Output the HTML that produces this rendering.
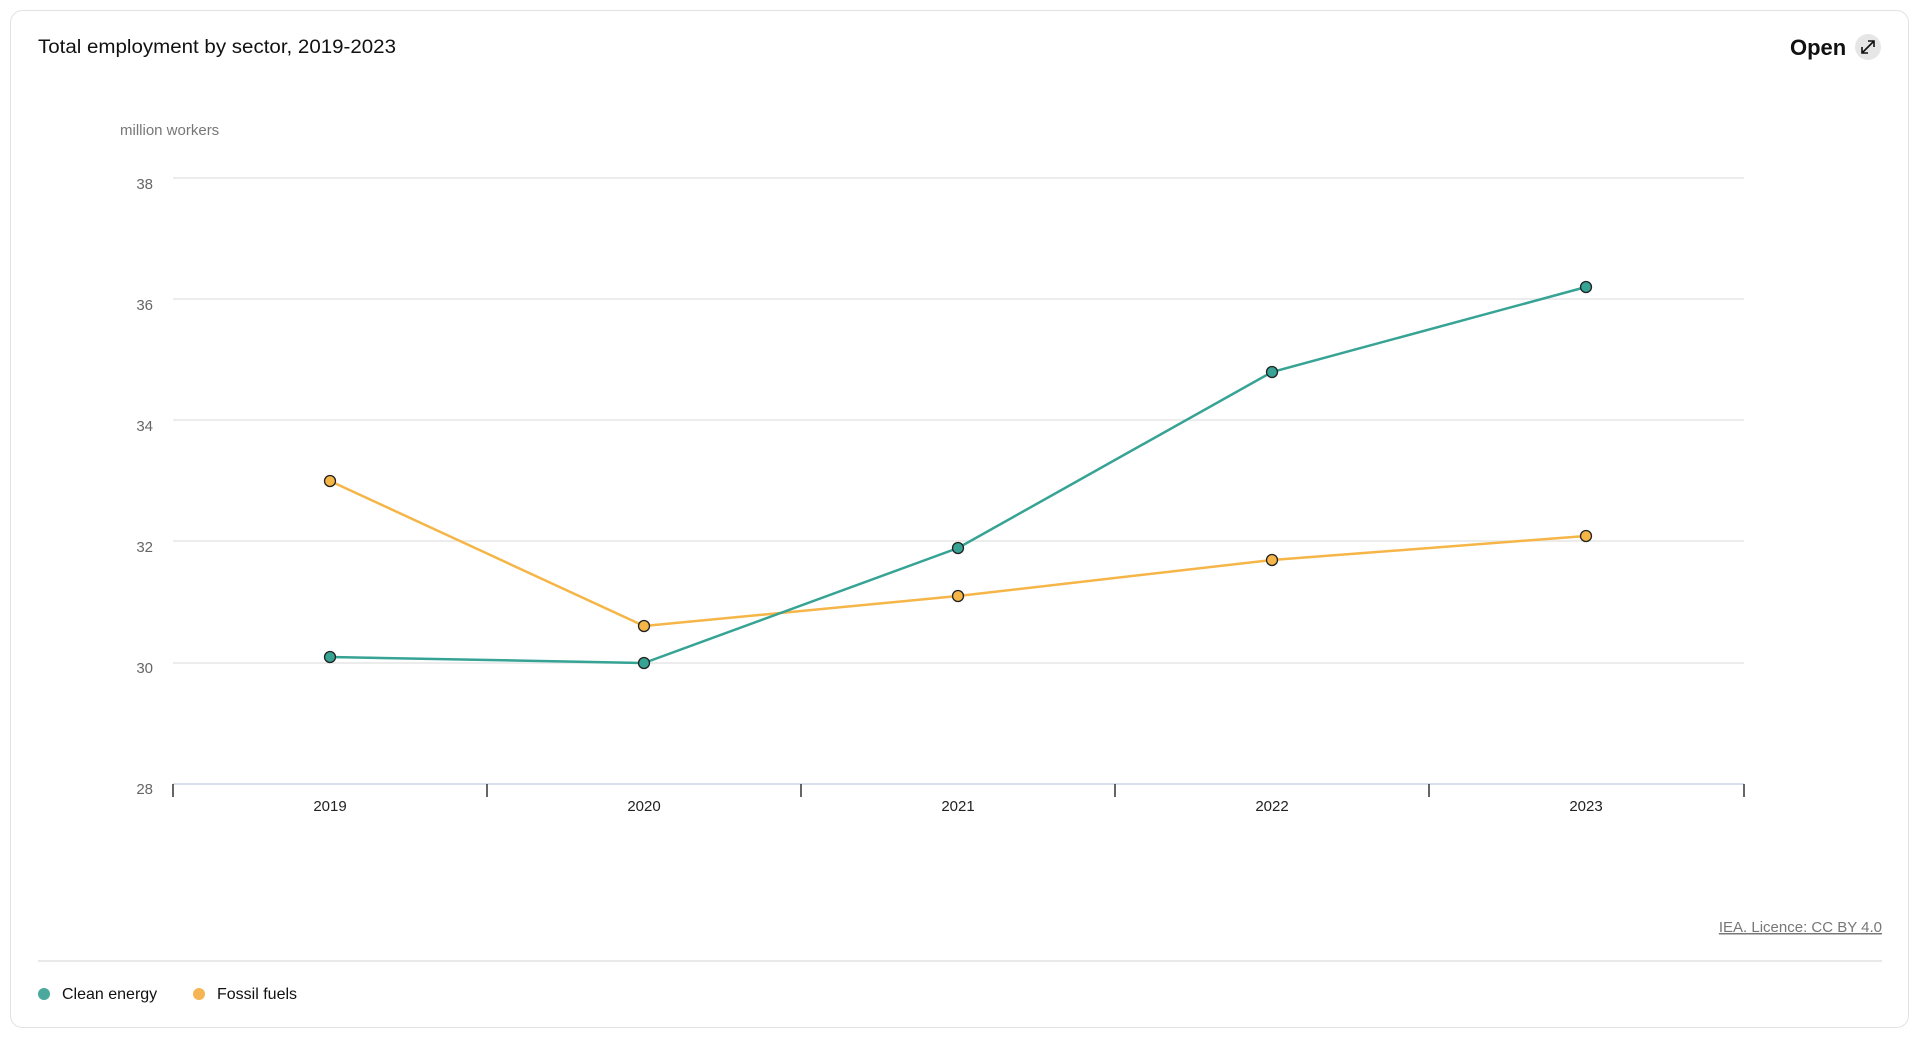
<!DOCTYPE html>
<html><head><meta charset="utf-8"><style>
html,body{margin:0;padding:0;background:#fff;width:1920px;height:1038px;overflow:hidden;font-family:"Liberation Sans",sans-serif;}
</style></head><body>
<svg width="1920" height="1038" xmlns="http://www.w3.org/2000/svg" font-family="Liberation Sans, sans-serif">
<rect x="10.5" y="10.5" width="1898" height="1017" rx="12" fill="#fff" stroke="#e2e2e2"/>
<text x="38" y="53" font-size="19" fill="#111" textLength="358" lengthAdjust="spacingAndGlyphs">Total employment by sector, 2019-2023</text>
<text x="1790" y="55" font-size="22" font-weight="bold" fill="#111">Open</text>
<circle cx="1868" cy="47" r="13" fill="#e6e6e6"/>
<path d="M1862 53 L1874 41 M1868 41 L1874 41 L1874 47 M1862 47 L1862 53 L1868 53" stroke="#111" stroke-width="1.6" fill="none"/>
<text x="120" y="135" font-size="15" fill="#777">million workers</text>
<g stroke="#e6e6e6" stroke-width="1.5">
<line x1="173" y1="178" x2="1744" y2="178"/>
<line x1="173" y1="299" x2="1744" y2="299"/>
<line x1="173" y1="420" x2="1744" y2="420"/>
<line x1="173" y1="541" x2="1744" y2="541"/>
<line x1="173" y1="663" x2="1744" y2="663"/>
</g>
<line x1="173" y1="784" x2="1744" y2="784" stroke="#ccd3e6" stroke-width="1.5"/>
<g font-size="15" fill="#666" text-anchor="end">
<text x="153" y="189">38</text><text x="153" y="310">36</text><text x="153" y="431">34</text>
<text x="153" y="552">32</text><text x="153" y="673">30</text><text x="153" y="794">28</text>
</g>
<g stroke="#333" stroke-width="1.5">
<line x1="173" y1="784" x2="173" y2="797"/><line x1="487" y1="784" x2="487" y2="797"/>
<line x1="801" y1="784" x2="801" y2="797"/><line x1="1115" y1="784" x2="1115" y2="797"/>
<line x1="1429" y1="784" x2="1429" y2="797"/><line x1="1744" y1="784" x2="1744" y2="797"/>
</g>
<g font-size="15" fill="#222" text-anchor="middle">
<text x="330" y="811">2019</text><text x="644" y="811">2020</text><text x="958" y="811">2021</text>
<text x="1272" y="811">2022</text><text x="1586" y="811">2023</text>
</g>
<polyline points="330,481 644,626 958,596 1272,560 1586,536" fill="none" stroke="#f5b547" stroke-width="2.5"/>
<polyline points="330,657 644,663 958,548 1272,372 1586,287" fill="none" stroke="#36a394" stroke-width="2.5"/>
<g fill="#f5b547" stroke="#222" stroke-width="1.3">
<circle cx="330" cy="481" r="5.5"/><circle cx="644" cy="626" r="5.5"/><circle cx="958" cy="596" r="5.5"/><circle cx="1272" cy="560" r="5.5"/><circle cx="1586" cy="536" r="5.5"/>
</g>
<g fill="#36a394" stroke="#222" stroke-width="1.3">
<circle cx="330" cy="657" r="5.5"/><circle cx="644" cy="663" r="5.5"/><circle cx="958" cy="548" r="5.5"/><circle cx="1272" cy="372" r="5.5"/><circle cx="1586" cy="287" r="5.5"/>
</g>
<text x="1882" y="932" font-size="15" fill="#777" text-anchor="end" text-decoration="underline">IEA. Licence: CC BY 4.0</text>
<line x1="38" y1="961" x2="1882" y2="961" stroke="#e2e2e2" stroke-width="1.5"/>
<circle cx="44" cy="994" r="6" fill="#4aa89c"/>
<text x="62" y="999" font-size="16" fill="#111">Clean energy</text>
<circle cx="199" cy="994" r="6" fill="#f5b552"/>
<text x="217" y="999" font-size="16" fill="#111">Fossil fuels</text>
</svg>
</body></html>
